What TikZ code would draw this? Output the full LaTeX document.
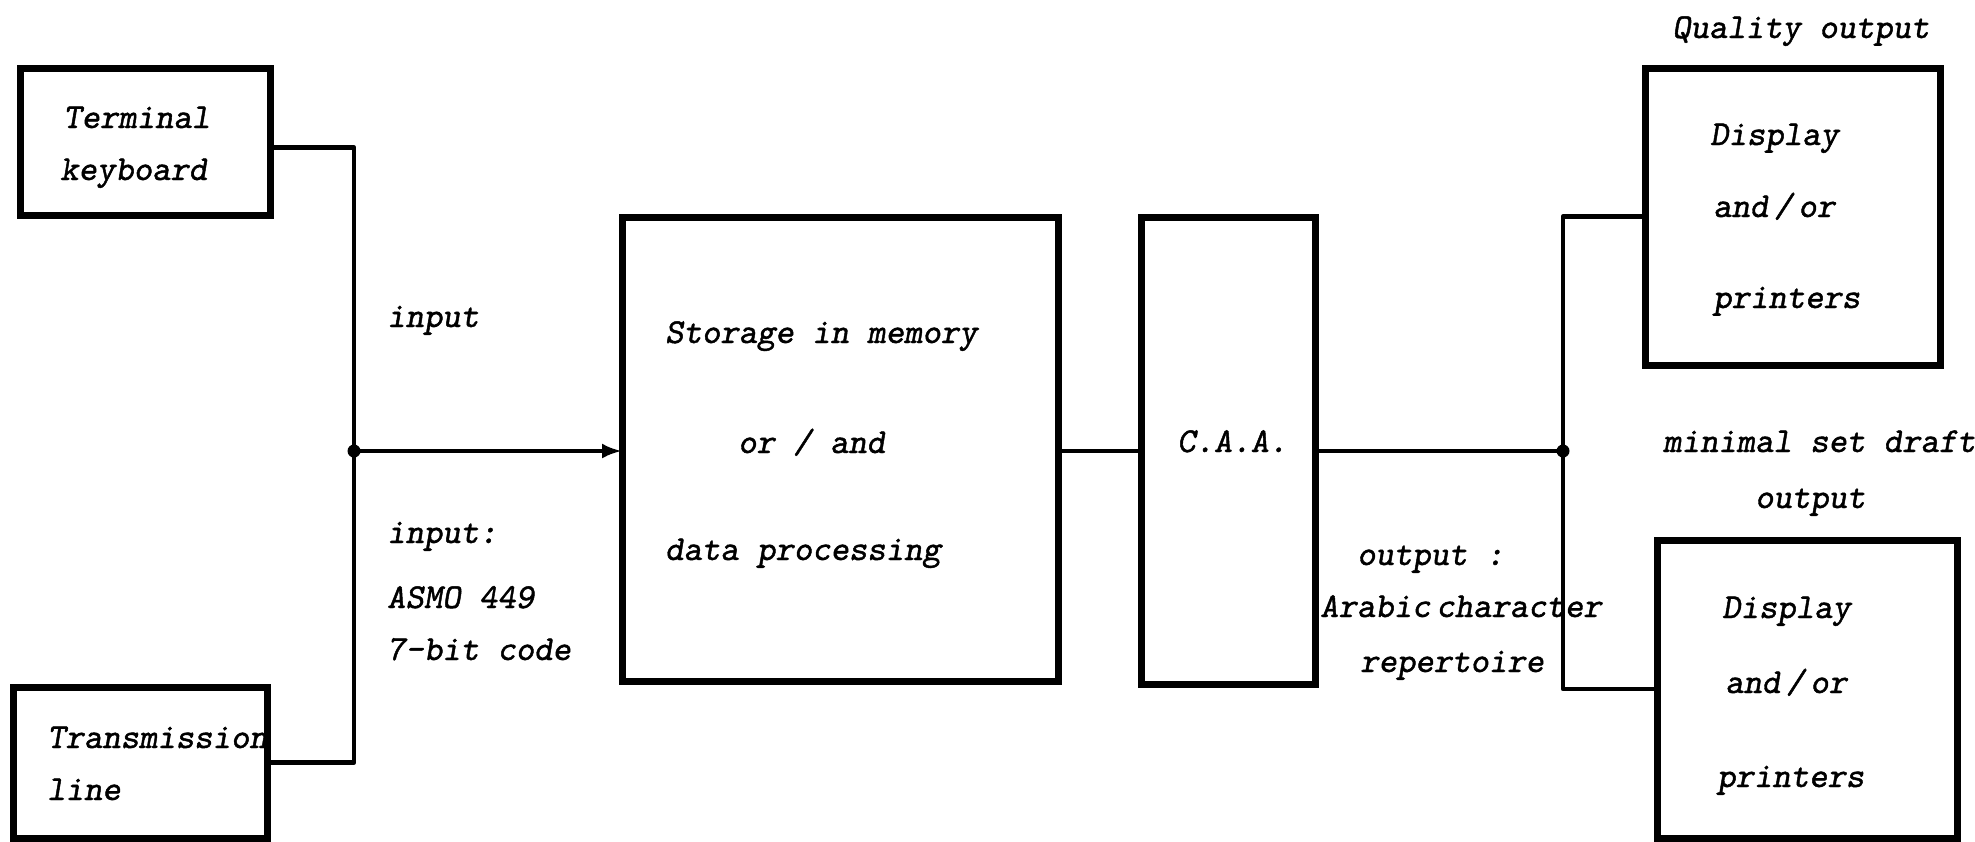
\documentclass[tikz,border=0pt]{standalone}
\usepackage{fontspec}
\usetikzlibrary{arrows.meta}
% slanted typewriter face for all labels, thickened like a typed original
\newfontfamily\typeslant{lmmonoslant10-regular}[Extension=.otf, FakeBold=1.3]
\newcommand\tagfont{\typeslant\fontsize{35}{42}\selectfont}
\begin{document}
\begin{tikzpicture}[x=1pt,y=-1pt,
  box/.style={draw, line width=7pt, rectangle, outer sep=0pt, inner sep=0pt},
  wire/.style={line width=4.5pt, line join=round},
  lbl/.style={anchor=base west, inner sep=0pt, font=\tagfont},
  dot/.style={circle, fill, inner sep=0pt, minimum size=13pt}]
\useasboundingbox (0,0) rectangle (1975,841);

% blocks
\node[box, minimum width=250pt, minimum height=147pt] (kb)  at (145,141.5) {};
\node[box, minimum width=254pt, minimum height=151pt] (tl)  at (140,762.5) {};
\node[box, minimum width=436pt, minimum height=464pt] (st)  at (840,449) {};
\node[box, minimum width=174pt, minimum height=467pt] (caa) at (1228,450.5) {};
\node[box, minimum width=295pt, minimum height=297pt] (d1)  at (1792.5,216.5) {};
\node[box, minimum width=300pt, minimum height=298pt] (d2)  at (1807,689) {};

% junction points
\coordinate (j1) at (354,451);
\coordinate (j2) at (1563,451);

% connectors
\draw[wire] ([yshift=-6pt]kb.east) -| (j1) |- (tl.east);
\draw[wire, -{Latex[length=20pt,width=15pt]}] (j1) -- (st.west |- j1);
\draw[wire] (st.east |- j1) -- (caa.west |- j1);
\draw[wire] (caa.east |- j1) -- (j2);
\draw[wire] (d1.west) -| (j2) |- (d2.west);
\node[dot] (dj1) at (j1) {};
\node[dot] (dj2) at (j2) {};

% texts inside the blocks
\node[lbl] (kb1) at (63,128) {Terminal};
\node[lbl] (kb2) at (60,180) {keyboard};
\node[lbl] (tl1) at (47,748) {Transmission};
\node[lbl] (tl2) at (47,800) {line};
\node[lbl] (st1) at (665,343) {Storage in memory};
\node[lbl] (st2) at (738,453) {or / and};
\node[lbl] (st3) at (665,560) {data processing};
\node[lbl] (ca1) at (1177,452) {C.A.A.};
\node[lbl] (da1) at (1710,145) {Display};
\node[lbl] (da2) at (1713,217) {and\,/\,or};
\node[lbl] (da3) at (1713,308) {printers};
\node[lbl] (db1) at (1722,618) {Display};
\node[lbl] (db2) at (1725,693) {and\,/\,or};
\node[lbl] (db3) at (1717,787) {printers};

% annotations
\node[lbl] (in1) at (387,327) {input};
\node[lbl] (in2) at (387,543) {input:};
\node[lbl] (in3) at (387,608) {ASMO 449};
\node[lbl] (in4) at (387,660) {7-bit code};
\node[lbl] (ou1) at (1357,565) {output :};
\node[lbl] (ou2) at (1320,617) {Arabic\,character};
\node[lbl] (ou3) at (1360,672) {repertoire};
\node[lbl] (qo)  at (1672,38) {Quality output};
\node[lbl] (mo1) at (1663,452) {minimal set draft};
\node[lbl] (mo2) at (1755,508) {output};
\end{tikzpicture}
\end{document}
